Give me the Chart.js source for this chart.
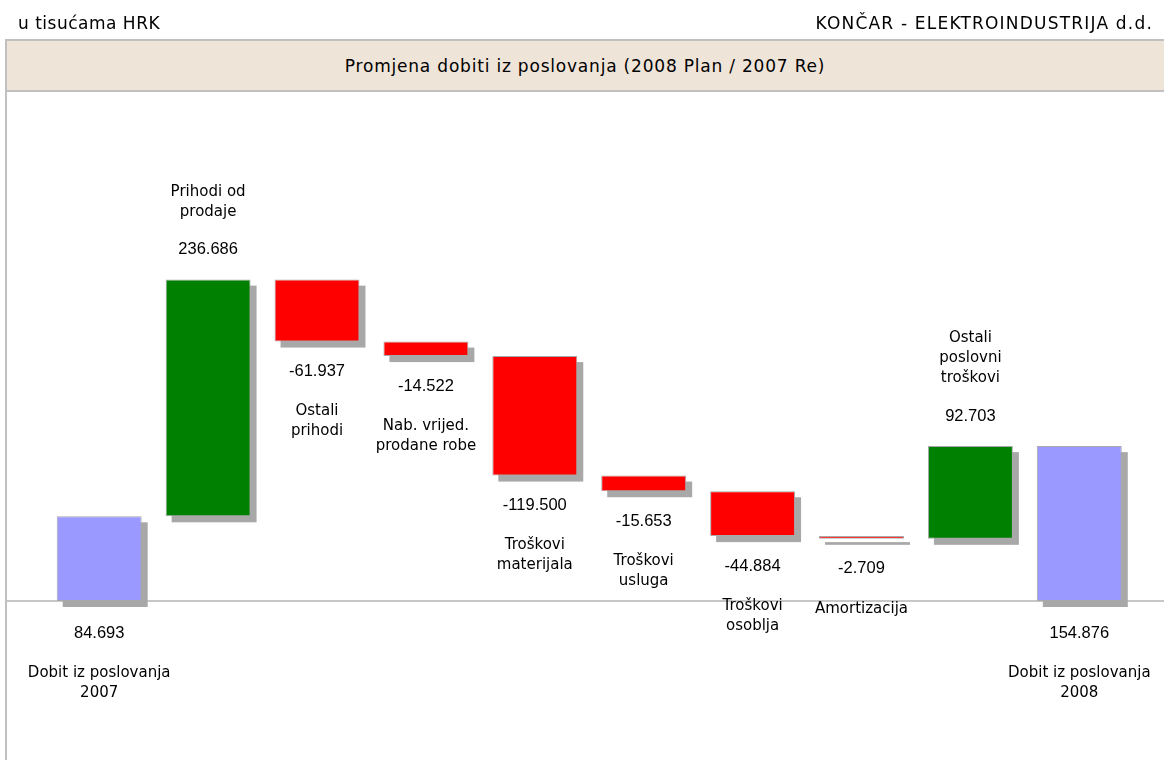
<!DOCTYPE html>
<html>
<head>
<meta charset="utf-8">
<script src="https://cdn.jsdelivr.net/npm/chart.js@4"></script>
<style>
  body { margin: 0; background: #fff; }
  #wrap { position: relative; width: 1164px; height: 760px; overflow: hidden; font-family: "DejaVu Sans", sans-serif; color: #000; }
  #wrap canvas { position: absolute; left: 0; top: 0; }
  .hdr { position: absolute; top: 14px; font-size: 17px; line-height: 18px; }
  #unit { left: 18px; letter-spacing: 0.5px; }
  #company { right: 11px; letter-spacing: 1.2px; }
  #titlebox { position: absolute; left: 5px; top: 39px; width: 1170px; height: 49px; background: #efe4d8;
    border-top: 2px solid #c0c0c0; border-bottom: 2px solid #c0c0c0; display: flex; align-items: center; justify-content: center; }
  #titlebox span { font-size: 17px; letter-spacing: 0.8px; margin-right: 10px; }
  #vline { position: absolute; left: 5px; top: 39px; width: 0; height: 730px; border-left: 2px solid #c0c0c0; }
</style>
</head>
<body>
<div id="wrap">
  <canvas id="waterfall" width="1164" height="760"></canvas>
  <div class="hdr" id="unit">u tisućama HRK</div>
  <div class="hdr" id="company">KONČAR - ELEKTROINDUSTRIJA d.d.</div>
  <div id="titlebox"><span>Promjena dobiti iz poslovanja (2008 Plan / 2007 Re)</span></div>
  <div id="vline"></div>
</div>
<script>
// categories, each one split into its printed lines
const categories = [
  ['Dobit iz poslovanja', '2007'],
  ['Prihodi od', 'prodaje'],
  ['Ostali', 'prihodi'],
  ['Nab. vrijed.', 'prodane robe'],
  ['Troškovi', 'materijala'],
  ['Troškovi', 'usluga'],
  ['Troškovi', 'osoblja'],
  ['Amortizacija'],
  ['Ostali', 'poslovni', 'troškovi'],
  ['Dobit iz poslovanja', '2008']
];
const changes = [84.693, 236.686, -61.937, -14.522, -119.5, -15.653, -44.884, -2.709, 92.703, 154.876];
const valueLabels = ['84.693', '236.686', '-61.937', '-14.522', '-119.500', '-15.653', '-44.884', '-2.709', '92.703', '154.876'];
const isTotal = [true, false, false, false, false, false, false, false, false, true];

const totalColor = '#9999ff';
const upColor = '#008000';
const downColor = '#ff0000';

// floating bars: totals start at zero, the rest continue the running sum
let running = 0;
const ranges = changes.map((v, i) => {
  if (isTotal[i]) { running = v; return [0, v]; }
  const r = [running, running + v];
  running += v;
  return r;
});
const colors = changes.map((v, i) => isTotal[i] ? totalColor : (v >= 0 ? upColor : downColor));

const decor = {
  id: 'decor',
  beforeDatasetsDraw(chart) {
    const ctx = chart.ctx;
    const y0 = chart.scales.y.getPixelForValue(0);
    ctx.save();
    // zero line
    ctx.strokeStyle = '#b4b4b4';
    ctx.lineWidth = 1.5;
    ctx.beginPath();
    ctx.moveTo(5, y0);
    ctx.lineTo(chart.width, y0);
    ctx.stroke();
    // bar shadows
    ctx.fillStyle = '#a8a8a8';
    chart.getDatasetMeta(0).data.forEach(bar => {
      const p = bar.getProps(['x', 'y', 'base', 'width'], true);
      const top = Math.min(p.y, p.base), bottom = Math.max(p.y, p.base);
      ctx.fillRect(p.x - p.width / 2 + 6, top + 6, p.width, Math.max(bottom - top, 1));
    });
    ctx.restore();
  },
  afterDatasetsDraw(chart) {
    const ctx = chart.ctx;
    const y0 = chart.scales.y.getPixelForValue(0);
    ctx.save();
    ctx.fillStyle = '#000';
    ctx.textAlign = 'center';
    ctx.textBaseline = 'middle';
    const lineH = 20;
    chart.getDatasetMeta(0).data.forEach((bar, i) => {
      const p = bar.getProps(['x', 'y', 'base'], true);
      const top = Math.min(p.y, p.base), bottom = Math.max(p.y, p.base);
      const lines = categories[i];
      let valueY, firstLineY;
      if (isTotal[i]) {
        valueY = y0 + 32;
        firstLineY = y0 + 72;
      } else if (changes[i] >= 0) {
        valueY = top - 30;
        firstLineY = top - 68 - (lines.length - 1) * lineH;
      } else {
        valueY = bottom + 30;
        firstLineY = bottom + 70;
      }
      ctx.font = '16.5px "Liberation Sans", Arial, sans-serif';
      ctx.fillText(valueLabels[i], p.x, valueY);
      ctx.font = '15px "DejaVu Sans", sans-serif';
      lines.forEach((t, k) => ctx.fillText(t, p.x, firstLineY + k * lineH));
    });
    ctx.restore();
  }
};

new Chart(document.getElementById('waterfall'), {
  type: 'bar',
  data: {
    labels: categories.map(c => c.join(' ')),
    datasets: [{
      data: ranges,
      backgroundColor: colors,
      borderColor: '#a9a9a9',
      borderWidth: 1,
      borderSkipped: false,
      categoryPercentage: 1,
      barPercentage: 0.78
    }]
  },
  options: {
    responsive: false,
    animation: false,
    layout: { padding: { left: 44.75, right: 30.25, top: 0, bottom: 0 } },
    plugins: { legend: { display: false }, tooltip: { enabled: false } },
    scales: {
      x: { display: false, offset: true },
      y: { display: false, min: -159, max: 601 }
    }
  },
  plugins: [decor]
});
</script>
</body>
</html>
